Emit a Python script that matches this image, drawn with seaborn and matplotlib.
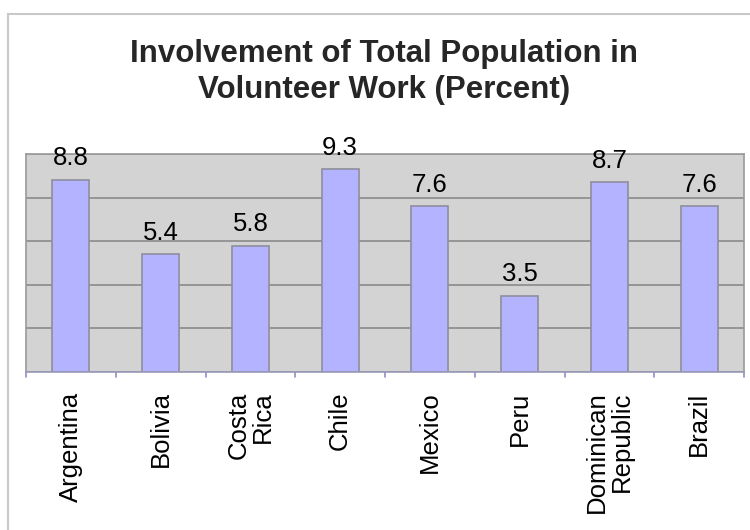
import matplotlib
matplotlib.use("Agg")
import matplotlib.pyplot as plt
import seaborn as sns
import pandas as pd
from matplotlib.patches import Rectangle

countries = ["Argentina", "Bolivia", "Costa\nRica", "Chile", "Mexico", "Peru",
             "Dominican\nRepublic", "Brazil"]
values = [8.8, 5.4, 5.8, 9.3, 7.6, 3.5, 8.7, 7.6]
value_labels = ["8.8", "5.4", "5.8", "9.3", "7.6", "3.5", "8.7", "7.6"]
title = "Involvement of Total Population in\nVolunteer Work (Percent)"

sns.set_theme(style="white")
plt.rcParams["font.family"] = ["Liberation Sans", "DejaVu Sans"]

df = pd.DataFrame({"country": countries, "value": values})

fig = plt.figure(figsize=(7.5, 5.3), dpi=100)
fig.patch.set_facecolor("white")
# outer chart frame
fig.add_artist(Rectangle((8 / 750, -0.05), 1.1, 1 - 14 / 530 + 0.05,
                         transform=fig.transFigure, fill=False,
                         edgecolor="#c8c8c8", linewidth=1.5))

ax = fig.add_axes([26 / 750, 1 - 372 / 530, (744 - 26) / 750, (372 - 154) / 530])
ax.set_facecolor("#d3d3d3")
sns.barplot(data=df, x="country", y="value", ax=ax, color="#b3b3ff",
            width=0.41, edgecolor="#8e8e9e", linewidth=1.2, saturation=1)

ax.set_ylim(0, 10)
ax.set_xlim(-0.5, len(countries) - 0.5)
ax.set_yticks([0, 2, 4, 6, 8, 10])
ax.set_yticklabels([])
ax.tick_params(axis="y", length=0)
ax.yaxis.grid(True, color="#8a8a8a", linewidth=1.2)
ax.set_axisbelow(True)

for s in ["top", "right", "left"]:
    ax.spines[s].set_color("#9a9a9a")
    ax.spines[s].set_linewidth(1.2)
ax.spines["bottom"].set_color("#9a9aba")
ax.spines["bottom"].set_linewidth(1.2)

ax.set_xticks([i for i in range(len(countries))])
ax.set_xticklabels(countries, rotation=90, fontsize=18.5, color="black",
                   multialignment="right", linespacing=1.0)
ax.tick_params(axis="x", length=0, pad=14)
# boundary tick marks
for b in [i - 0.5 for i in range(len(countries) + 1)]:
    ax.plot([b, b], [0, -0.25], color="#8c8cc8", linewidth=1.2,
            clip_on=False, transform=ax.transData)

ax.set_xlabel("")
ax.set_ylabel("")

for i, (v, t) in enumerate(zip(values, value_labels)):
    ax.annotate(t, (i, v), xytext=(0, 7), textcoords="offset points",
                ha="center", va="bottom", fontsize=18.5, color="black")

fig.text(0.512, 1 - 72 / 530, title, ha="center", va="center",
         fontsize=22.5, fontweight="bold", linespacing=1.25)

fig.savefig("out.png", dpi=100)
